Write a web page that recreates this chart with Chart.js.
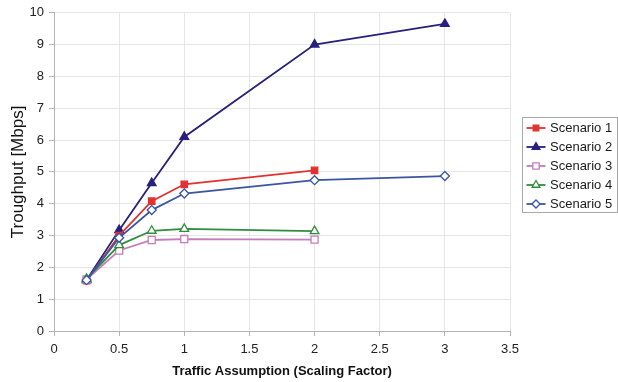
<!DOCTYPE html>
<html>
<head>
<meta charset="utf-8">
<script src="https://cdn.jsdelivr.net/npm/chart.js@4/dist/chart.umd.min.js"></script>
<style>
  html, body { margin: 0; padding: 0; background: #ffffff; }
  #wrap { width: 618px; height: 382px; position: relative; }
</style>
</head>
<body>
<div id="wrap"><canvas id="c" width="618" height="382"></canvas></div>
<script>
// Traffic scaling factors and measured throughput per scenario (Mbps)
const scalingLong = [0.25, 0.5, 0.75, 1, 2, 3];
const scalingShort = [0.25, 0.5, 0.75, 1, 2];

const scenario1 = [1.58, 3.0, 4.08, 4.61, 5.05];
const scenario2 = [1.6, 3.17, 4.65, 6.1, 9.0, 9.65];
const scenario3 = [1.62, 2.53, 2.86, 2.89, 2.87];
const scenario4 = [1.64, 2.7, 3.15, 3.21, 3.14];
const scenario5 = [1.6, 2.93, 3.8, 4.32, 4.74, 4.87];

const seriesNames = ['Scenario 1', 'Scenario 2', 'Scenario 3', 'Scenario 4', 'Scenario 5'];
const xTitle = 'Traffic Assumption (Scaling Factor)';
const yTitle = 'Troughput [Mbps]';

const pairs = (xs, ys) => ys.map((y, i) => ({ x: xs[i], y: y }));

const FONT = "'Liberation Sans', Arial, sans-serif";

function series(label, xs, ys, color, style, filled, radius) {
  return {
    label: label,
    data: pairs(xs, ys),
    borderColor: color,
    backgroundColor: filled ? color : '#ffffff',
    pointBackgroundColor: filled ? color : '#ffffff',
    pointBorderColor: color,
    pointStyle: style,
    pointRadius: radius,
    pointBorderWidth: 1.3,
    borderWidth: 1.8,
    tension: 0,
    fill: false
  };
}

const datasets = [
  series(seriesNames[4], scalingLong, scenario5, '#3a55a2', 'rectRot', false, 4.5),
  series(seriesNames[3], scalingShort, scenario4, '#2f8d3e', 'triangle', false, 5),
  series(seriesNames[2], scalingShort, scenario3, '#c77bb9', 'rect', false, 5),
  series(seriesNames[0], scalingShort, scenario1, '#e2322f', 'rect', true, 4.5),
  series(seriesNames[1], scalingLong, scenario2, '#27217c', 'triangle', true, 5)
];

// Boxed legend to the right of the plot, each entry a short line with its marker
const boxedLegend = {
  id: 'boxedLegend',
  afterDraw(chart) {
    const ctx = chart.ctx;
    const area = chart.chartArea;
    const left = area.right + 12.5, top = 117.5, w = 95, h = 95;
    ctx.save();
    ctx.fillStyle = '#ffffff';
    ctx.strokeStyle = '#a8a8a8';
    ctx.lineWidth = 1;
    ctx.fillRect(left, top, w, h);
    ctx.strokeRect(left, top, w, h);
    const ordered = seriesNames.map(n => chart.data.datasets.find(d => d.label === n));
    ordered.forEach((ds, i) => {
      const y = top + 10.5 + i * 19;
      ctx.strokeStyle = ds.borderColor;
      ctx.lineWidth = 1.8;
      ctx.beginPath();
      ctx.moveTo(left + 4, y);
      ctx.lineTo(left + 23, y);
      ctx.stroke();
      ctx.fillStyle = ds.pointBackgroundColor;
      ctx.strokeStyle = ds.pointBorderColor;
      ctx.lineWidth = 1.3;
      Chart.helpers.drawPoint(ctx, {
        pointStyle: ds.pointStyle,
        radius: ds.pointRadius * 0.9,
        rotation: 0,
        borderWidth: 1.3
      }, left + 13.5, y);
      ctx.fillStyle = '#1a1a1a';
      ctx.font = '13px ' + FONT;
      ctx.textBaseline = 'middle';
      ctx.textAlign = 'left';
      ctx.fillText(ds.label, left + 27.5, y + 0.5);
    });
    ctx.restore();
  }
};

new Chart(document.getElementById('c'), {
  type: 'line',
  data: { datasets: datasets },
  plugins: [boxedLegend],
  options: {
    responsive: false,
    animation: false,
    devicePixelRatio: 1,
    layout: { padding: { top: 12, right: 108, left: 0, bottom: 0 } },
    plugins: {
      legend: { display: false },
      tooltip: { enabled: false }
    },
    scales: {
      x: {
        type: 'linear',
        min: 0,
        max: 3.5,
        ticks: {
          stepSize: 0.5,
          color: '#222222',
          font: { family: FONT, size: 13 },
          padding: 6,
          maxRotation: 0,
          callback: v => String(Math.round(v * 10) / 10)
        },
        grid: { color: '#e6e6e6', tickColor: '#b4b4b4', tickLength: 5, lineWidth: 1 },
        border: { color: '#b4b4b4', width: 1 },
        title: {
          display: true,
          text: xTitle,
          color: '#111111',
          font: { family: FONT, size: 13, weight: 'bold' },
          padding: { top: 2, bottom: 3 }
        },
        afterFit(scale) { scale.height = 51; }
      },
      y: {
        min: 0,
        max: 10,
        ticks: {
          stepSize: 1,
          color: '#222222',
          font: { family: FONT, size: 13 },
          padding: 5
        },
        grid: { color: '#e6e6e6', tickColor: '#b4b4b4', tickLength: 5, lineWidth: 1 },
        border: { color: '#b4b4b4', width: 1 },
        title: {
          display: true,
          text: yTitle,
          color: '#111111',
          font: { family: FONT, size: 17 },
          padding: { top: 8, bottom: 0 }
        },
        afterFit(scale) { scale.width = 54; }
      }
    }
  }
});
</script>
</body>
</html>
